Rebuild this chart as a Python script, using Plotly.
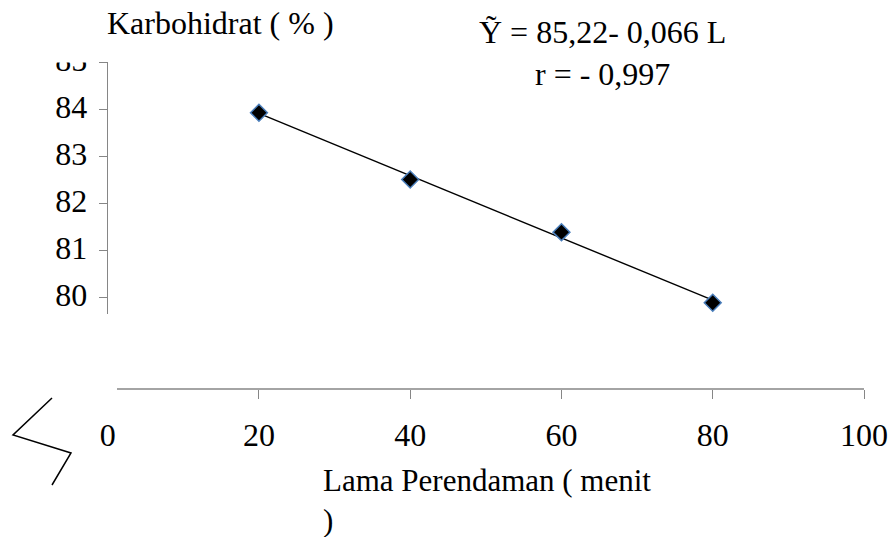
import plotly.graph_objects as go
import numpy as np

# ---- data ----
lama = [20, 40, 60, 80]
karbo = [83.92, 82.50, 81.38, 79.88]
x_tick_vals = [0, 20, 40, 60, 80, 100]
x_mark_vals = [20, 40, 60, 80, 100]
y_tick_vals = [80, 81, 82, 83, 84, 85]
y_title = "Karbohidrat ( % )"
x_title = "Lama Perendaman ( menit<br>)"
eq_text = "Ỹ = 85,22- 0,066 L<br>r = - 0,997"

W, H = 892, 537
FONT = "Liberation Serif"
GRAY = "#868686"
TICK_SIZE = 32

def px(x):
    return x / W

def py(y):
    return (H - y) / H

slope, intercept = np.polyfit(lama, karbo, 1)
trend_x = [min(lama), max(lama)]
trend_y = [intercept + slope * v for v in trend_x]

fig = go.Figure()
fig.add_trace(go.Scatter(x=trend_x, y=trend_y, mode="lines",
                         line=dict(color="black", width=1.4),
                         showlegend=False, hoverinfo="skip"))
fig.add_trace(go.Scatter(x=lama, y=karbo, mode="markers",
                         marker=dict(symbol="diamond", size=13, color="black",
                                     line=dict(color="#4a7ebb", width=1.5)),
                         showlegend=False))
# invisible trace for tick-mark axis
fig.add_trace(go.Scatter(x=[None], y=[None], xaxis="x2", showlegend=False))

xdom = [px(107.7), px(864)]
xpos = py(389)

fig.update_layout(
    width=W, height=H,
    margin=dict(l=0, r=0, t=0, b=0, autoexpand=False),
    paper_bgcolor="white", plot_bgcolor="white",
    font=dict(family=FONT, size=TICK_SIZE, color="black"),
    xaxis=dict(domain=xdom, range=[0, 100], anchor="free", position=xpos,
               tickvals=x_tick_vals, ticks="", showline=False,
               showgrid=False, zeroline=False, automargin=False,
               tickfont=dict(family=FONT, size=TICK_SIZE, color="black"),
               ticklabelstandoff=24),
    xaxis2=dict(domain=xdom, range=[0, 100], overlaying="x", anchor="free",
                position=xpos, tickvals=x_mark_vals, ticks="outside",
                ticklen=9, tickcolor=GRAY, tickwidth=1.3,
                showticklabels=False, showline=False, showgrid=False,
                zeroline=False, automargin=False),
    yaxis=dict(domain=[py(314), py(62)], range=[79.64, 85], anchor="x",
               tickvals=y_tick_vals, ticks="outside", ticklen=8,
               tickcolor=GRAY, tickwidth=1.3, showline=True,
               linecolor=GRAY, linewidth=1.3, showgrid=False, zeroline=False,
               automargin=False,
               tickfont=dict(family=FONT, size=TICK_SIZE, color="black"),
               ticklabelstandoff=5, ticklabelshift=-2),
    shapes=[
        dict(type="line", xref="paper", yref="paper",
             x0=px(117), x1=xdom[1], y0=xpos, y1=xpos,
             line=dict(color=GRAY, width=1.3)),
        dict(type="rect", xref="paper", yref="paper", layer="above",
             x0=px(30), x1=px(97), y0=py(62.5), y1=py(35),
             fillcolor="white", line=dict(width=0)),
        dict(type="path", xref="paper", yref="paper",
             path=f"M {px(52)} {py(398)} L {px(13)} {py(435)} L {px(71)} {py(453)} L {px(52)} {py(485)}",
             line=dict(color="black", width=1.5)),
    ],
    annotations=[
        dict(text=y_title, xref="paper", yref="paper", x=px(105), y=py(23),
             xanchor="left", yanchor="middle", showarrow=False,
             font=dict(family=FONT, size=32)),
        dict(text=eq_text, xref="paper", yref="paper", x=px(602), y=py(53),
             xanchor="center", yanchor="middle", align="center",
             showarrow=False, font=dict(family=FONT, size=32)),
        dict(text=x_title, xref="paper", yref="paper", x=px(321), y=py(500),
             xanchor="left", yanchor="middle", align="left",
             showarrow=False, font=dict(family=FONT, size=31)),
    ],
)

fig.write_html("out.html")
